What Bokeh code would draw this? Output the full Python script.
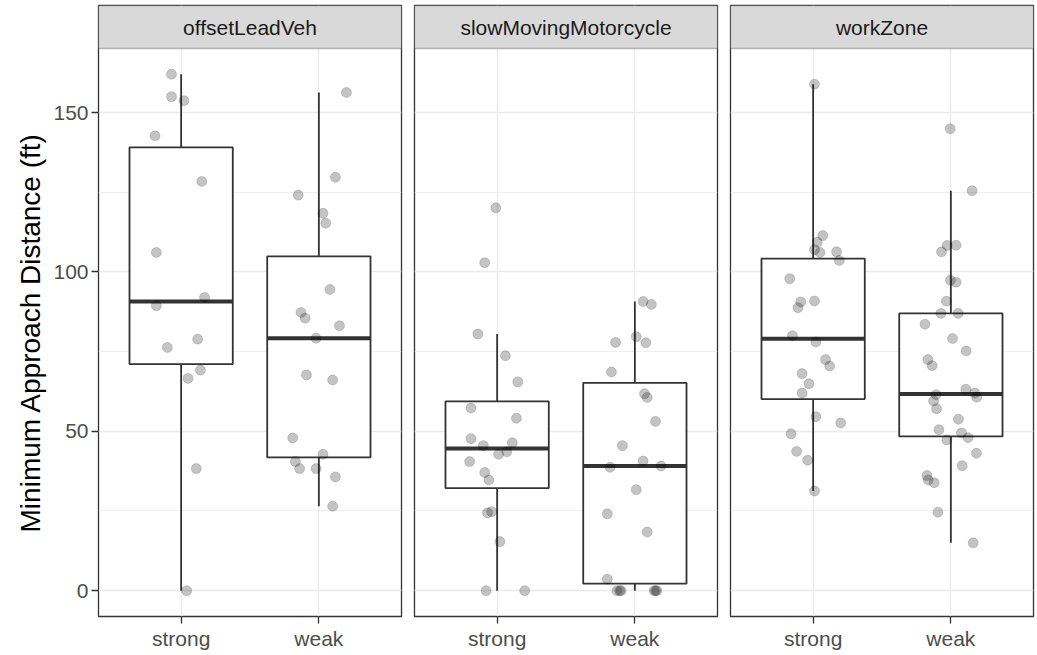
import math
from bokeh.plotting import figure
from bokeh.layouts import row
from bokeh.models import FixedTicker, Grid, BoxAnnotation, Label, Range1d, ColumnDataSource
from bokeh.embed import file_html
from bokeh.resources import INLINE

# ---------------- data ----------------
facets = ["offsetLeadVeh", "slowMovingMotorcycle", "workZone"]
groups = ["strong", "weak"]
y_ticks = [0, 50, 100, 150]
y_minor = [25, 75, 125]
y_title = "Minimum Approach Distance (ft)"

olv_strong = [162.0, 155.0, 153.7, 142.7, 128.4, 106.1, 92.0, 89.4, 78.9, 76.3, 69.2, 66.6, 38.3, 0.0]
olv_strong_jit = [-0.07, -0.07, 0.02, -0.19, 0.15, -0.18, 0.17, -0.18, 0.12, -0.10, 0.14, 0.05, 0.11, 0.04]
olv_weak = [156.3, 129.7, 124.1, 118.4, 115.3, 94.5, 87.3, 85.5, 83.1, 79.2, 67.7, 66.1, 47.9, 42.8,
            40.5, 38.3, 38.3, 35.7, 26.5]
olv_weak_jit = [0.20, 0.12, -0.15, 0.03, 0.05, 0.08, -0.13, -0.10, 0.15, -0.02, -0.09, 0.10, -0.19, 0.03,
                -0.17, -0.14, -0.02, 0.12, 0.10]

smm_strong = [120.1, 102.9, 80.5, 73.7, 65.5, 57.3, 54.1, 47.7, 45.5, 46.4, 42.8, 43.6, 40.5, 37.1,
              34.7, 24.4, 24.8, 15.4, 0.0, 0.0]
smm_strong_jit = [-0.01, -0.09, -0.14, 0.06, 0.15, -0.19, 0.14, -0.19, -0.10, 0.11, 0.01, 0.07, -0.20, -0.09,
                  -0.06, -0.07, -0.04, 0.02, -0.08, 0.20]
smm_weak = [90.7, 89.8, 77.9, 79.7, 77.8, 68.6, 61.8, 60.6, 53.1, 45.5, 40.7, 38.7, 39.1, 31.7, 24.1,
            18.4, 3.6, 0.0, 0.0, 0.0, 0.0, 0.0, 0.0]
smm_weak_jit = [0.06, 0.12, -0.14, 0.01, 0.08, -0.17, 0.07, 0.09, 0.15, -0.09, 0.06, -0.18, 0.19, 0.01, -0.20,
                0.09, -0.20, -0.13, -0.11, -0.10, 0.14, 0.15, 0.16]

wz_strong = [158.9, 111.4, 109.3, 107.0, 106.1, 106.3, 103.6, 97.9, 90.6, 88.8, 90.9, 80.0, 78.0, 72.5,
             70.5, 68.1, 64.9, 62.0, 54.6, 52.6, 49.2, 43.7, 40.9, 31.3]
wz_strong_jit = [0.01, 0.07, 0.03, 0.01, 0.05, 0.17, 0.19, -0.17, -0.09, -0.11, 0.01, -0.15, 0.02, 0.09,
                 0.12, -0.08, -0.03, -0.08, 0.02, 0.20, -0.16, -0.12, -0.04, 0.01]
wz_weak = [144.9, 125.5, 108.3, 108.4, 106.3, 97.4, 96.8, 90.8, 87.0, 87.0, 83.6, 79.1, 75.2, 72.5, 70.6,
           63.2, 61.5, 62.0, 60.7, 59.5, 57.1, 53.8, 50.5, 49.5, 47.3, 48.0, 43.1, 39.2, 36.1, 34.7, 33.9,
           24.6, 15.0]
wz_weak_jit = [-0.005, 0.154, -0.027, 0.038, -0.068, -0.003, 0.038, -0.032, -0.072, 0.053, -0.188, 0.012,
               0.111, -0.167, -0.136, 0.109, -0.107, 0.174, 0.188, -0.126, -0.104, 0.055, -0.087, 0.077,
               -0.029, 0.125, 0.186, 0.082, -0.174, -0.164, -0.121, -0.094, 0.162]

# box statistics, order: olv-strong, olv-weak, smm-strong, smm-weak, wz-strong, wz-weak
box_lo = [0.0, 26.5, 0.0, 0.0, 31.3, 15.0]
box_q1 = [71.1, 41.8, 32.2, 2.2, 60.1, 48.4]
box_med = [90.7, 79.2, 44.6, 39.1, 79.0, 61.7]
box_q3 = [139.1, 104.9, 59.4, 65.2, 104.2, 87.0]
box_hi = [162.0, 156.3, 80.5, 90.7, 158.9, 125.5]

points = {
    "offsetLeadVeh": [(olv_strong, olv_strong_jit), (olv_weak, olv_weak_jit)],
    "slowMovingMotorcycle": [(smm_strong, smm_strong_jit), (smm_weak, smm_weak_jit)],
    "workZone": [(wz_strong, wz_strong_jit), (wz_weak, wz_weak_jit)],
}

# ---------------- layout / style ----------------
FONT = "Liberation Sans"
FW = 303
PANEL_H = 568
STRIP_H = 43
FH = PANEL_H + STRIP_H
BOX_W = 0.75
TITLE_W = 50
X0, X1 = 0.4, len(groups) + 0.6
TOP, BOTTOM = 5, 36

all_vals = [v for f in facets for g in points[f] for v in g[0]] + box_lo + box_hi
lo, hi = min(all_vals), max(all_vals)
pad = 0.05 * (hi - lo)
y0, y_panel_top = lo - pad, hi + pad
scale = PANEL_H / (y_panel_top - y0)
y_end = y_panel_top + STRIP_H / scale

# narrow figure that holds the y-axis title, centred on the panel area
tfig = figure(frame_width=TITLE_W, frame_height=FH, x_range=Range1d(0, TITLE_W), y_range=Range1d(y0, y_end),
              x_axis_location=None, y_axis_location=None, output_backend="svg", toolbar_location=None,
              min_border_left=0, min_border_right=0, min_border_top=TOP, min_border_bottom=BOTTOM,
              background_fill_color="white", border_fill_color="white", outline_line_color=None)
tfig.grid.visible = False
tfig.add_layout(Label(x=30, y=(y0 + y_panel_top) / 2, text=y_title, angle=math.pi / 2,
                      text_align="center", text_baseline="middle", text_font=FONT,
                      text_font_size="28px", text_color="black"))

borders = [(98 - TITLE_W, 7), (6, 7), (6, 2)]

figs = [tfig]
for fi, facet in enumerate(facets):
    first = fi == 0
    bl, br = borders[fi]
    p = figure(frame_width=FW, frame_height=FH,
               x_range=Range1d(X0, X1), y_range=Range1d(y0, y_end),
               output_backend="svg", toolbar_location=None,
               y_axis_location="left" if first else None,
               min_border_left=bl, min_border_right=br,
               min_border_top=TOP, min_border_bottom=BOTTOM,
               background_fill_color="white", border_fill_color="white")
    p.grid.visible = False
    p.outline_line_color = "#333333"
    p.outline_line_width = 1.3

    ytick = FixedTicker(ticks=y_ticks, minor_ticks=y_minor)
    xtick = FixedTicker(ticks=[i + 1 for i in range(len(groups))], minor_ticks=[])
    p.add_layout(Grid(dimension=1, ticker=ytick, grid_line_color="#ebebeb", grid_line_width=1.4,
                      minor_grid_line_color="#ebebeb", minor_grid_line_width=0.8))
    p.add_layout(Grid(dimension=0, ticker=xtick, grid_line_color="#ebebeb", grid_line_width=1.4))

    xa = p.xaxis[0]
    xa.ticker = xtick
    xa.major_label_overrides = {i + 1: g for i, g in enumerate(groups)}
    for ax in p.axis:
        ax.axis_line_color = None
        ax.major_tick_line_color = "#333333"
        ax.major_tick_line_width = 1.3
        ax.major_tick_out = 7
        ax.major_tick_in = 0
        ax.minor_tick_out = 0
        ax.minor_tick_in = 0
        ax.major_label_text_font = FONT
        ax.major_label_text_font_size = "21px"
        ax.major_label_text_color = "#4d4d4d"
        ax.major_label_standoff = 3
    if first:
        p.yaxis[0].ticker = FixedTicker(ticks=y_ticks, minor_ticks=[])

    # strip
    p.add_layout(BoxAnnotation(bottom=y_panel_top, top=y_end, fill_color="#d9d9d9", fill_alpha=1.0,
                               line_color="#333333", line_width=1.3, level="annotation"))
    p.add_layout(Label(x=(X0 + X1) / 2, y=(y_panel_top + y_end) / 2, text=facet,
                       text_align="center", text_baseline="middle", text_font=FONT,
                       text_font_size="21px", text_color="#1a1a1a"))

    # boxes
    idx = [fi * len(groups) + gi for gi in range(len(groups))]
    xs = [gi + 1 for gi in range(len(groups))]
    bsrc = ColumnDataSource(dict(
        x=xs,
        left=[x - BOX_W / 2 for x in xs], right=[x + BOX_W / 2 for x in xs],
        lo=[box_lo[i] for i in idx], q1=[box_q1[i] for i in idx], med=[box_med[i] for i in idx],
        q3=[box_q3[i] for i in idx], hi=[box_hi[i] for i in idx]))
    p.segment(x0="x", x1="x", y0="q3", y1="hi", source=bsrc, line_color="#333333", line_width=1.8)
    p.segment(x0="x", x1="x", y0="lo", y1="q1", source=bsrc, line_color="#333333", line_width=1.8)
    p.quad(left="left", right="right", bottom="q1", top="q3", source=bsrc,
           fill_color="white", line_color="#333333", line_width=1.8)
    p.segment(x0="left", x1="right", y0="med", y1="med", source=bsrc, line_color="#333333", line_width=4)

    # jittered points
    for gi, (vals, jit) in enumerate(points[facet]):
        psrc = ColumnDataSource(dict(x=[gi + 1 + j for j in jit], y=vals))
        p.scatter(x="x", y="y", source=psrc, size=10, fill_color="black", fill_alpha=0.23,
                  line_color="black", line_alpha=0.15, line_width=1)
    figs.append(p)

layout = row(*figs, spacing=0)
open("out.html", "w").write(file_html(layout, INLINE))
